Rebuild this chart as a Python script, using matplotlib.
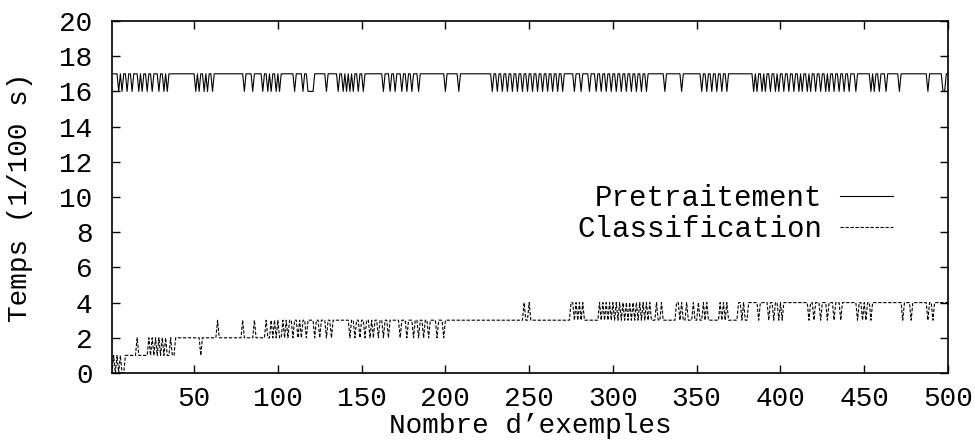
import numpy as np
import matplotlib.pyplot as plt

# sample index (1..500)
n_samples = 500

# Pretraitement: 17 everywhere except these samples (16)
pre_base = 17
pre_dips = [5, 7, 10, 13, 17, 19, 22, 25, 29, 32, 34, 51, 53, 56, 58, 61,
            80, 85, 91, 94, 96, 99, 101, 110, 115, 118, 119, 120, 121,
            129, 136, 139, 141, 143, 145, 148, 151,
            163, 167, 170, 174, 177, 180, 184, 200, 208,
            228, 231, 234, 237, 240, 243, 246, 249, 252, 255, 258, 261, 264,
            267, 270, 277, 281, 286,
            290, 293, 296, 299, 302, 305, 308, 311, 314, 317, 320, 331, 341,
            353, 356, 359, 362, 365, 368,
            384, 386, 389, 391, 394, 397, 399, 402, 405, 408, 411, 413, 416,
            418, 421, 424, 427, 429, 432, 435, 438, 441, 445,
            454, 456, 459, 463, 471, 488, 497, 498]

# Classification: first samples, then base levels by run, with spikes/dips
cls_head = [0, 1, 0, 1, 0, 1, 0, 0, 1]
cls_runs = [(10, 38, 1), (39, 106, 2), (107, 380, 3), (381, 500, 4)]
cls_up = [16, 23, 25, 27, 29, 31, 33, 36, 64, 79, 86, 93, 96, 98, 100,
          103, 105, 247, 250, 275, 276, 278, 280, 282,
          292, 294, 296, 298, 300, 302, 304, 306, 308, 310, 312, 314, 316,
          318, 320, 322, 326, 329, 338, 339, 341, 344, 348, 351, 354, 356,
          364, 366, 368, 375, 376, 378]
cls_down = [54, 109, 112, 114, 117, 122, 125, 129, 132, 143, 146, 149, 152,
            155, 157, 160, 163, 166, 173, 177, 181, 184, 187, 190, 195, 199,
            387, 393, 396, 399, 401, 417, 420, 424, 428, 432, 436, 446, 449,
            451, 454, 473, 478, 488, 491]

x = np.arange(1, n_samples + 1)

pre = np.full(n_samples, pre_base)
pre[np.array(pre_dips) - 1] -= 1

cls = np.zeros(n_samples, dtype=int)
cls[:len(cls_head)] = cls_head
for a, b, lvl in cls_runs:
    cls[a - 1:b] = lvl
cls[np.array(cls_up) - 1] += 1
cls[np.array(cls_down) - 1] -= 1

plt.rcParams['font.family'] = ['Liberation Mono', 'DejaVu Sans']
fs = 20

fig = plt.figure(figsize=(9.75, 4.46), dpi=100)
ax = fig.add_axes([112 / 975, 73 / 446, 836 / 975, 352 / 446])

ax.plot(x, pre, color='black', lw=0.8, label='Pretraitement')
ax.plot(x, cls, color='black', lw=0.8, dashes=(3, 1.5), label='Classification')

ax.set_xlim(1, 500)
ax.set_ylim(0, 20)
ax.set_xticks(np.arange(50, 501, 50))
ax.set_yticks(np.arange(0, 21, 2))
ax.tick_params(direction='in', length=6, width=1, top=True, right=True,
               labelsize=fs)
ax.tick_params(axis='x', pad=9)
ax.tick_params(axis='y', pad=14)
for s in ax.spines.values():
    s.set_linewidth(1.2)

ax.set_xlabel("Nombre d\u2019exemples", fontsize=fs, labelpad=1)
ax.set_ylabel("Temps (1/100 s)", fontsize=fs, labelpad=19)

ax.legend(loc='center right', bbox_to_anchor=(0.934, 0.452), frameon=False,
          markerfirst=False, fontsize=21, handlelength=1.8,
          handletextpad=0.62, labelspacing=0.1, borderpad=0, borderaxespad=0)

fig.savefig('out.png', dpi=100)
